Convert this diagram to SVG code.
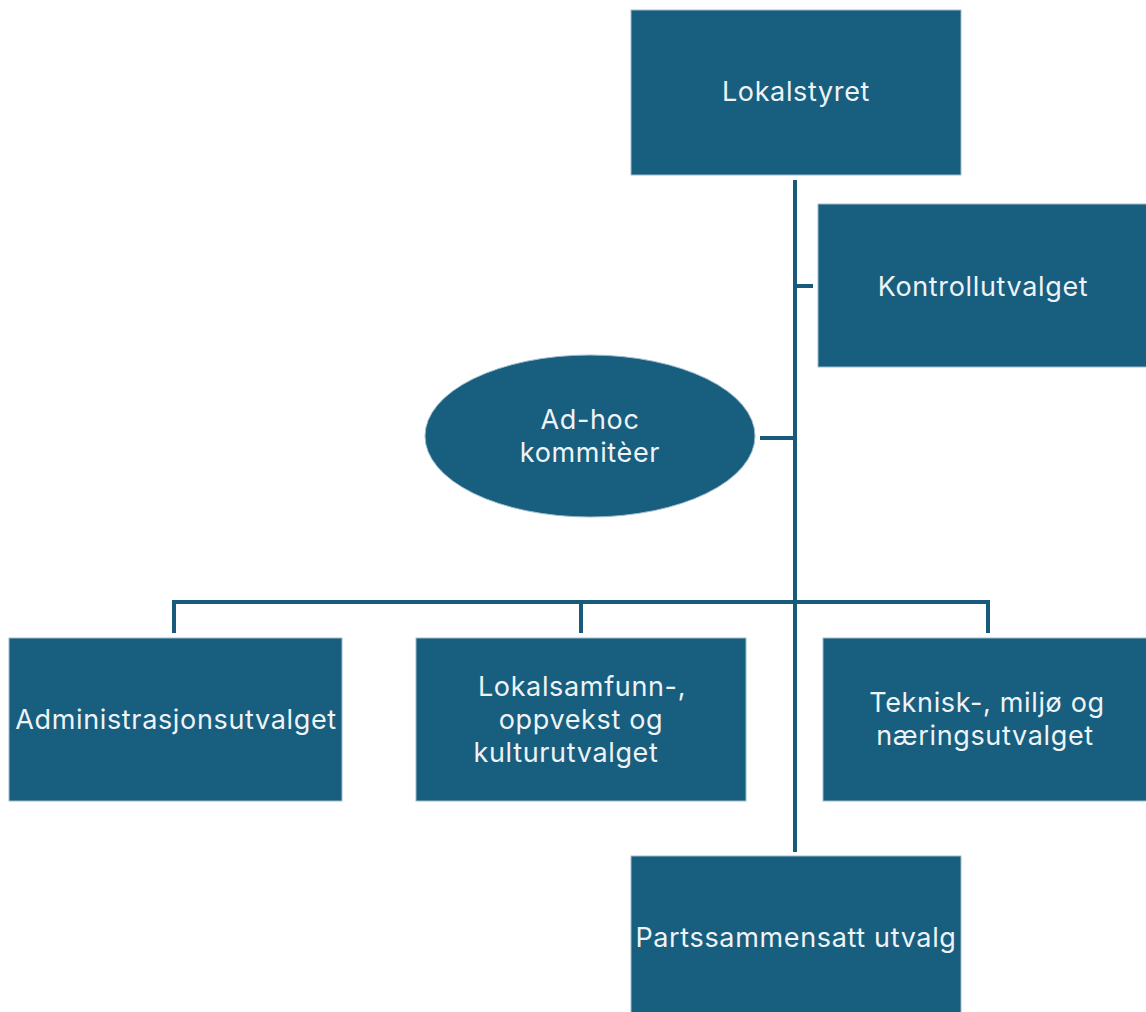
<svg xmlns="http://www.w3.org/2000/svg" width="1146" height="1012" viewBox="0 0 1146 1012">
<style>
.box{fill:#175e7f;stroke:#9fbccb;stroke-width:1}
.lbl{font-family:Inter,"Open Sans","Liberation Sans",sans-serif;font-size:27px;letter-spacing:0.65px;fill:#eef3f6;text-anchor:middle}
.conn{stroke:#175a79;stroke-width:4;fill:none}
</style>
<rect width="1146" height="1012" fill="#ffffff"/>
<g id="connectors">
<line class="conn" x1="795" y1="180" x2="795" y2="852"/>
<line class="conn" x1="795" y1="286" x2="813" y2="286"/>
<line class="conn" x1="760" y1="438" x2="795" y2="438"/>
<polyline class="conn" points="174,633 174,602 988,602 988,633"/>
<line class="conn" x1="581" y1="602" x2="581" y2="633"/>
</g>
<g id="lokalstyret">
<rect class="box" x="631" y="10" width="330" height="165"/>
<text class="lbl" x="796" y="101">Lokalstyret</text>
</g>
<g id="kontrollutvalget">
<rect class="box" x="818" y="204" width="330" height="163"/>
<text class="lbl" x="983" y="296">Kontrollutvalget</text>
</g>
<g id="adhoc">
<ellipse class="box" cx="590" cy="436" rx="165" ry="81"/>
<text class="lbl" x="590" y="429">Ad-hoc</text>
<text class="lbl" x="590" y="462">kommitèer</text>
</g>
<g id="administrasjonsutvalget">
<rect class="box" x="9" y="638" width="333" height="163"/>
<text class="lbl" x="176" y="729">Administrasjonsutvalget</text>
</g>
<g id="lokalsamfunn">
<rect class="box" x="416" y="638" width="330" height="163"/>
<text class="lbl" x="582" y="696">Lokalsamfunn-,</text>
<text class="lbl" x="581" y="729">oppvekst og</text>
<text class="lbl" x="566" y="762">kulturutvalget</text>
</g>
<g id="teknisk">
<rect class="box" x="823" y="638" width="330" height="163"/>
<text class="lbl" x="987" y="712">Teknisk-, miljø og</text>
<text class="lbl" x="985" y="745">næringsutvalget</text>
</g>
<g id="partssammensatt">
<rect class="box" x="631" y="856" width="330" height="166"/>
<text class="lbl" x="796" y="947">Partssammensatt utvalg</text>
</g>
</svg>
